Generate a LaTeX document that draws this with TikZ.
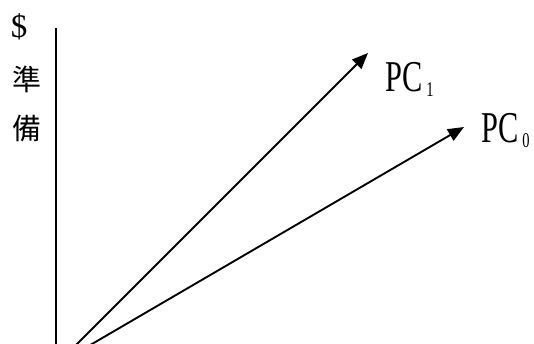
\documentclass[tikz,border=0pt]{standalone}
\usepackage{fontspec}
\setmainfont{Liberation Serif}
\newfontfamily\cjk{Noto Sans CJK TC}
\usetikzlibrary{arrows.meta}
\tikzset{
  axisline/.style={line width=1.9pt},
  curve/.style={line width=1.9pt,-{Triangle[length=16pt,width=13pt]}},
  cjklabel/.style={inner sep=0pt,font=\cjk\fontsize{29}{29}\selectfont},
  pclabel/.style={inner sep=0pt,anchor=base west},
}
\newcommand{\pcname}[1]{\scalebox{0.69}[1]{\fontsize{44}{44}\selectfont PC\hspace{6pt}\raisebox{-5pt}{\fontsize{21}{21}\selectfont #1}}}
\begin{document}
\begin{tikzpicture}[x=1pt,y=-1pt]
\useasboundingbox (0,0) rectangle (534,344);
\clip (0,0) rectangle (534,344);
\coordinate (O) at (56,365);
\coordinate (top) at (56,28);
\coordinate (t1) at (368,53);
\coordinate (t0) at (464,127);
\draw[axisline] (O) -- (top);
\draw[curve] (O) -- (t1);
\draw[curve] (O) -- (t0);
\node[inner sep=0pt,font=\fontsize{33}{33}\selectfont] (dollar) at (19,27) {\$};
\node[cjklabel] (c1) at (27,79) {準};
\node[cjklabel] (c2) at (27,129) {備};
\node[pclabel] (pc1) at (385,92) {\pcname{1}};
\node[pclabel] (pc0) at (481,143) {\pcname{0}};
\end{tikzpicture}
\end{document}
